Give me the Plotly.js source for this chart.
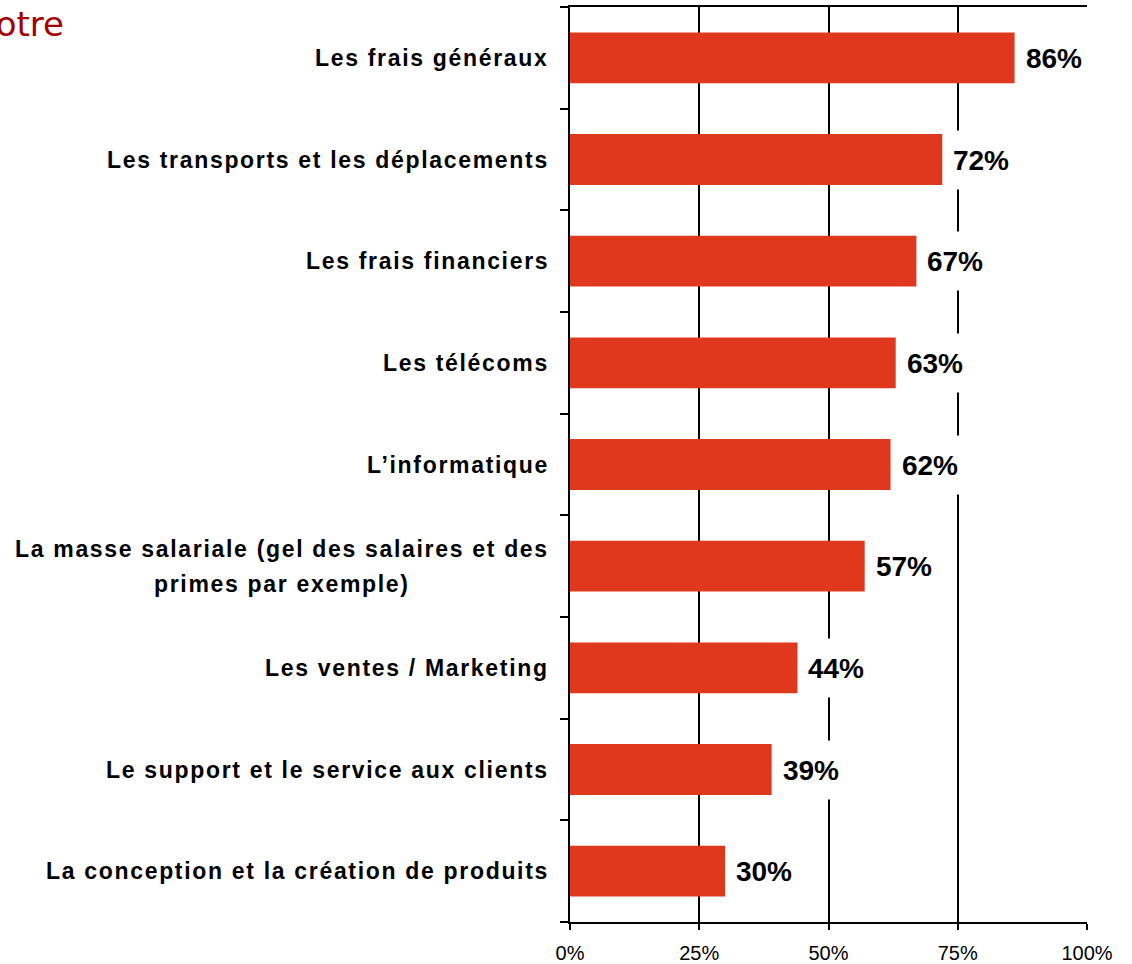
<!DOCTYPE html>
<html>
<head>
<meta charset="utf-8">
<script src="https://cdn.plot.ly/plotly-3.0.1.min.js"></script>
<style>
  html, body { margin: 0; padding: 0; background: #ffffff; }
  #chart { width: 1132px; height: 964px; }
</style>
</head>
<body>
<div id="chart"></div>
<script>
// ---- data (top to bottom as shown) ----
const categories = [
  "Les frais généraux",
  "Les transports et les déplacements",
  "Les frais financiers",
  "Les télécoms",
  "L’informatique",
  "La masse salariale (gel des salaires et des<br>primes par exemple)",
  "Les ventes / Marketing",
  "Le support et le service aux clients",
  "La conception et la création de produits"
];
const values = [86, 72, 67, 63, 62, 57, 44, 39, 30];
const valueLabels = ["86%", "72%", "67%", "63%", "62%", "57%", "44%", "39%", "30%"];
const xTickVals = [0, 25, 50, 75, 100];
const xTickText = ["0%", "25%", "50%", "75%", "100%"];
const titleText = "otre";

const catIds = categories.map((c, i) => "c" + i);

const LABEL_FONT = "Liberation Sans, Arial, sans-serif";
const LABEL_SIZE = 23;
const LETTER_SP = 1.68;
const LINE_GAP = 35;

// measure text width (for centring the lines of a multi-line category label)
const cv = document.createElement("canvas");
const ctx = cv.getContext("2d");
ctx.font = "bold " + LABEL_SIZE + "px 'Liberation Sans', Arial, sans-serif";
try { ctx.letterSpacing = LETTER_SP + "px"; } catch (e) {}
function textWidth(s) { return ctx.measureText(s).width; }

const trace = {
  type: "bar",
  orientation: "h",
  y: catIds,
  x: values,
  width: 0.5,
  marker: { color: "#DF381C", line: { width: 0 } },
  hoverinfo: "skip"
};

const annotations = [];
categories.forEach((c, i) => {
  const lines = c.split("<br>");
  const widths = lines.map(textWidth);
  const maxW = Math.max.apply(null, widths);
  const n = lines.length;
  lines.forEach((line, j) => {
    annotations.push({
      xref: "paper", yref: "y",
      x: 0, y: catIds[i],
      xanchor: "right", yanchor: "middle",
      xshift: -19 - (maxW - widths[j]) / 2,
      yshift: ((n - 1) / 2 - j) * LINE_GAP,
      showarrow: false,
      text: '<span style="letter-spacing:' + LETTER_SP + 'px">' + line + '</span>',
      font: { family: LABEL_FONT, size: LABEL_SIZE, color: "#000000", weight: "bold" }
    });
  });
});
values.forEach((v, i) => {
  annotations.push({
    xref: "x", yref: "y",
    x: v, y: catIds[i],
    xanchor: "left", yanchor: "middle",
    xshift: 1,
    width: 74, height: 58,
    align: "center",
    bgcolor: "#ffffff",
    borderpad: 0,
    showarrow: false,
    text: valueLabels[i],
    font: { family: LABEL_FONT, size: 28, color: "#000000", weight: "bold" }
  });
});

const layout = {
  width: 1132, height: 964,
  margin: { l: 570, r: 45, t: 7, b: 42, pad: 0 },
  paper_bgcolor: "#ffffff",
  plot_bgcolor: "#ffffff",
  showlegend: false,
  bargap: 0.5,
  title: {
    text: titleText,
    x: 64 / 1132, xanchor: "right", xref: "container",
    y: 1 - 24 / 964, yanchor: "middle", yref: "container",
    font: { family: "DejaVu Sans", size: 34, color: "#A50005" }
  },
  xaxis: {
    range: [0, 100],
    tickvals: xTickVals,
    ticktext: xTickText,
    ticks: "outside", ticklen: 6, tickwidth: 2, tickcolor: "#000000",
    ticklabelstandoff: 6,
    showgrid: true, gridcolor: "#000000", gridwidth: 2,
    showline: true, linecolor: "#000000", linewidth: 2, mirror: true,
    zeroline: false,
    tickfont: { family: LABEL_FONT, size: 20, color: "#000000" },
    fixedrange: true
  },
  yaxis: {
    type: "category",
    categoryorder: "array",
    categoryarray: catIds.slice().reverse(),
    autorange: false,
    range: [-0.5, categories.length - 0.5],
    showticklabels: false,
    tickson: "boundaries",
    ticks: "outside", ticklen: 8, tickwidth: 2, tickcolor: "#000000",
    showgrid: false,
    showline: true, linecolor: "#000000", linewidth: 2,
    zeroline: false,
    fixedrange: true
  },
  annotations: annotations
};

Plotly.newPlot("chart", [trace], layout, { displayModeBar: false, staticPlot: true });
</script>
</body>
</html>
